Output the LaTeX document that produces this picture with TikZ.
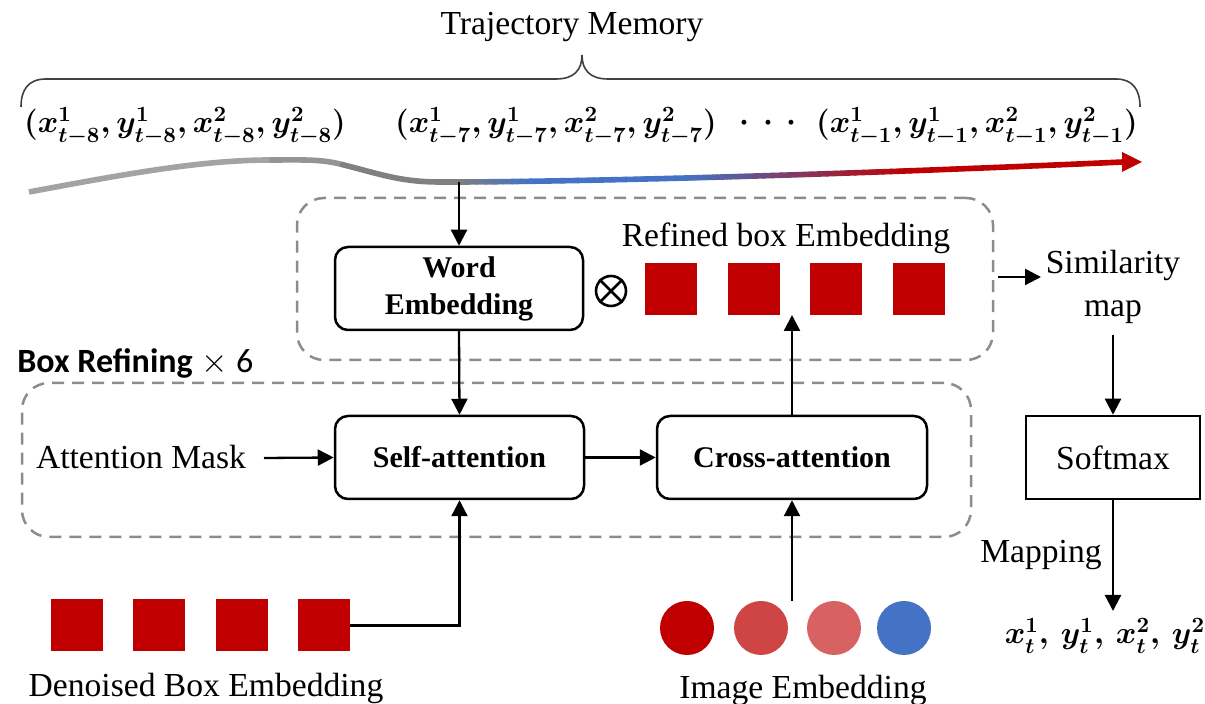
\RequirePackage{fix-cm}
\documentclass[tikz,border=0pt]{standalone}
\usepackage{fontspec}
\setmainfont{Liberation Serif}
\newfontfamily\carlito{Carlito}
\usetikzlibrary{arrows.meta}
\definecolor{boxred}{HTML}{C00000}
\definecolor{dashgray}{HTML}{8C8C8C}
\definecolor{trblue}{HTML}{4472C4}
\definecolor{trgray}{HTML}{808080}
\definecolor{imgredb}{HTML}{CF4444}
\definecolor{imgredc}{HTML}{D86262}
\definecolor{bracegray}{HTML}{404040}

\newcommand\trseg[5]{%
  \foreach \i in {1,...,#3} {
    \pgfmathsetmacro\xa{#1+(#2-#1)*(\i-1)/#3}
    \pgfmathsetmacro\xb{#1+(#2-#1)*\i/#3}
    \pgfmathsetmacro\sa{(\xa-459)/664}
    \pgfmathsetmacro\sb{(\xb-459)/664}
    \pgfmathsetmacro\ya{182-20*\sa*sqrt(\sa)}
    \pgfmathsetmacro\yb{182-20*\sb*sqrt(\sb)}
    \pgfmathsetmacro\p{100*(\i-0.5)/#3}
    \draw[line width=2.8pt, line cap=round, color=#5!\p!#4] (\xa,\ya) -- (\xb,\yb);
  }}

\begin{document}
\begin{tikzpicture}[x=0.5pt,y=-0.5pt,
  txt/.style={inner sep=0pt, font=\rmfamily\fontsize{16.8}{21.5}\selectfont, align=center},
  mth/.style={inner sep=0pt, font=\rmfamily\fontsize{15.6}{20}\selectfont\boldmath},
  blk/.style={draw, line width=1.25pt, rounded corners=6.5pt, minimum height=41.5pt, inner sep=0pt, font=\rmfamily\fontsize{15}{18}\selectfont\bfseries, align=center},
  sq/.style={fill=boxred, minimum size=26pt, inner sep=0pt},
  dot/.style={circle, minimum size=27pt, inner sep=0pt},
  arr/.style={line width=1.15pt, -{Triangle[length=8pt,width=8pt]}},
  grp/.style={draw=dashgray, line width=1.25pt, dash pattern=on 6pt off 4pt, rounded corners=13.5pt, inner sep=0pt},
]
\useasboundingbox (0,0) rectangle (1205,704);

% title and brace
\node[txt] (tm) at (572,27) {Trajectory Memory};
\draw[line width=0.8pt, bracegray] (21,107) .. controls (21,90) and (28,79) .. (46,79) -- (556,79) .. controls (574,79) and (582,70) .. (582,55) .. controls (582,70) and (590,79) .. (608,79) -- (1116,79) .. controls (1133,79) and (1140,90) .. (1140,107);

% tuples
\node[mth, anchor=base] (tp1) at (185,133) {$(x^1_{t-8}, y^1_{t-8}, x^2_{t-8}, y^2_{t-8})$};
\node[mth, anchor=base] (tp2) at (556,133) {$(x^1_{t-7}, y^1_{t-7}, x^2_{t-7}, y^2_{t-7})$};
\node[mth] (dots) at (768,123) {$\cdot\,\cdot\,\cdot$};
\node[mth, anchor=base] (tp3) at (977,133) {$(x^1_{t-1}, y^1_{t-1}, x^2_{t-1}, y^2_{t-1})$};

% trajectory curve
\draw[line width=2.8pt, color=black!36] (29,192) .. controls (120,175) and (200,160) .. (270,160);
\draw[line width=2.8pt, color=black!42] (270,160) .. controls (300,160) and (320,159) .. (340,164);
\draw[line width=2.8pt, color=black!50] (340,164) .. controls (380,174) and (400,182) .. (440,182) -- (459,182);
\trseg{459}{530}{8}{trgray}{trblue}
\trseg{530}{690}{10}{trblue}{trblue}
\trseg{690}{910}{24}{trblue}{boxred}
\trseg{910}{1123}{10}{boxred}{boxred}
\fill[boxred] (1122,152) -- (1142,162) -- (1122,172) -- cycle;
\coordinate (tj) at (459,182);

% groups
\node[grp, minimum width=348pt, minimum height=81pt] (upper) at (645,279) {};
\node[grp, minimum width=474.5pt, minimum height=77pt] (lower) at (496.5,460) {};
\node[anchor=west, inner sep=0pt, font=\fontsize{17}{20}\selectfont] (brl) at (17,363) {{\carlito\bfseries Box Refining} $\times$ {\carlito 6}};

% blocks
\node[blk, minimum width=124pt] (word) at (459,288.5) {Word\\[0.5pt]Embedding};
\node[blk, minimum width=124.5pt] (self) at (459.5,457.5) {Self-attention};
\node[blk, minimum width=135pt] (cross) at (792,457.5) {Cross-attention};
\node[draw, line width=1.25pt, minimum width=87pt, minimum height=41.5pt, inner sep=0pt, font=\rmfamily\fontsize{16.8}{20}\selectfont] (soft) at (1113,457.5) {Softmax};

\node[circle, draw, line width=1.3pt, minimum size=15pt, inner sep=0pt] (otimes) at (611,291) {};
\draw[line width=1.3pt] (otimes.north west) -- (otimes.south east);
\draw[line width=1.3pt] (otimes.north east) -- (otimes.south west);
\node[txt] (reftxt) at (786,238) {Refined box Embedding};
\node[sq] (r1) at (671,289) {};
\node[sq] (r2) at (753.5,289) {};
\node[sq] (r3) at (836,289) {};
\node[sq] (r4) at (918.5,289) {};

\node[txt] (simi) at (1113,287) {Similarity\\map};
\node[txt] (mask) at (141,457) {Attention Mask};
\node[txt] (mapping) at (1041,555) {Mapping};
\node[mth] (out) at (1105,636) {$x_t^1,\,y_t^1,\,x_t^2,\,y_t^2$};

\node[sq] (d1) at (77,625.5) {};
\node[sq] (d2) at (159,625.5) {};
\node[sq] (d3) at (241.5,625.5) {};
\node[sq] (d4) at (324,625.5) {};
\node[txt] (den) at (206,688) {Denoised Box Embedding};

\node[dot, fill=boxred] (c1) at (687,628) {};
\node[dot, fill=imgredb] (c2) at (761,628) {};
\node[dot, fill=imgredc] (c3) at (834,628) {};
\node[dot, fill=trblue] (c4) at (904,628) {};
\node[txt] (img) at (803,690) {Image Embedding};

% connectors
\coordinate (m0) at (264,458);
\coordinate (i0) at (792,601);
\coordinate (rs) at (792,315);
\coordinate (s0) at (998,277);
\coordinate (s1) at (1041,277);
\coordinate (mp) at (1113,335);
\coordinate (o0) at (1113,611);
\draw[arr] (tj) -- (word.north);
\draw[arr] (word.south) -- (self.north);
\draw[arr] (m0) -- (self.west);
\draw[arr] (self.east) -- (cross.west);
\draw[arr] (d4.east) -| (self.south);
\draw[arr] (i0) -- (cross.south);
\draw[arr] (cross.north) -- (rs);
\draw[arr] (s0) -- (s1);
\draw[arr] (mp) -- (soft.north);
\draw[arr] (soft.south) -- (o0);
\end{tikzpicture}
\end{document}
